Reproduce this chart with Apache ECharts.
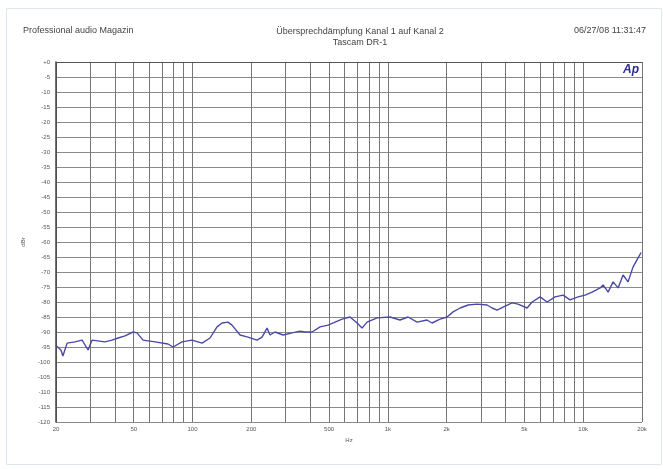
<!DOCTYPE html>
<html>
<head>
<meta charset="utf-8">
<script src="https://cdn.jsdelivr.net/npm/echarts@6/dist/echarts.min.js"></script>
<style>
  html, body { margin: 0; padding: 0; background: #fff; }
  #chart { width: 663px; height: 469px; }
</style>
</head>
<body>
<div id="chart"></div>
<script>
// crosstalk measurement, channel 1 -> channel 2
const freqHz = [
  20, 21.2, 21.7, 22.8, 25.0, 27.2, 29.2, 30.6, 35.6, 38.7, 41.6, 45.1, 49.6, 52.0,
  55.8, 64.3, 74.9, 79.5, 88.4, 99.4, 111.9, 122.9, 133.5, 141.6, 151.9, 159.2,
  175.1, 192.3, 213.9, 226.9, 240.7, 249.3, 264.4, 290.7, 323.3, 355.1, 376.8,
  409.1, 449.6, 494.1, 536.5, 582.9, 640.4, 695.6, 737.9, 782.6, 880.4, 1026,
  1154, 1269, 1411, 1587, 1683, 1851, 2009, 2157, 2343, 2575, 2863, 3221, 3416,
  3624, 3889, 4324, 4641, 5161, 5475, 6015, 6535, 7178, 7889, 8565, 9416, 10224,
  11107, 12207, 12645, 13411, 14225, 15088, 16004, 16974, 18004, 19098, 19790
];
const levelDb = [
  -94.5, -96, -98, -93.7, -93.3, -92.7, -96, -92.7, -93.3, -92.7, -92, -91.3, -90, -90.3,
  -92.7, -93.3, -94, -95, -93.3, -92.7, -93.7, -92, -88.3, -87, -86.7, -87.7,
  -91, -91.7, -92.7, -91.7, -88.7, -91, -90, -91, -90.3, -89.7, -90,
  -90, -88.3, -87.7, -86.7, -85.7, -85, -87, -88.7, -86.7, -85.3, -85,
  -86, -85, -86.7, -86, -87, -85.7, -85, -83.3, -82, -81, -80.7, -81, -82,
  -82.7, -81.7, -80.3, -80.7, -82, -80, -78.3, -80, -78.3, -77.7, -79.3, -78.3, -77.7,
  -76.7, -75.3, -74.3, -76.7, -73.3, -75.3, -71, -73.3, -68.3, -65.3, -63.5
];

const xGridHz = [
  20, 30, 40, 50, 60, 70, 80, 90, 100, 200, 300, 400, 500, 600, 700, 800, 900,
  1000, 2000, 3000, 4000, 5000, 6000, 7000, 8000, 9000, 10000, 20000
];
const xLabelHz = [20, 50, 100, 200, 500, 1000, 2000, 5000, 10000, 20000];
const xLabelText = ['20', '50', '100', '200', '500', '1k', '2k', '5k', '10k', '20k'];

const yMin = -120;
const yMax = 0;
const yStep = 5;

const data = freqHz.map((f, i) => [f, levelDb[i]]);

const chart = echarts.init(document.getElementById('chart'));

const tiny = { fontFamily: 'Liberation Sans', fontSize: 6, color: '#555' };
const head = { fontFamily: 'Liberation Sans', fontSize: 9, color: '#444', fontWeight: 'normal' };

chart.setOption({
  animation: false,
  backgroundColor: '#fff',
  title: [
    { text: 'Professional audio Magazin', left: 18, top: 21, textStyle: head },
    { text: 'Übersprechdämpfung Kanal 1 auf Kanal 2\nTascam DR-1', left: 355, top: 21, textAlign: 'center',
      textStyle: { ...head, lineHeight: 11, align: 'center' } },
    { text: '06/27/08 11:31:47', right: 12, top: 21, textStyle: head }
  ],
  graphic: [
    { type: 'rect', left: 4, top: 6, shape: { width: 655, height: 456 },
      style: { fill: 'none', stroke: '#dfe6ec', lineWidth: 1 }, silent: true },
    { type: 'text', left: 623, top: 64, z: 10,
      style: { text: 'Ap', fill: '#2c2c8c', font: 'italic bold 12px Liberation Sans' } }
  ],
  grid: { left: 56, right: 21, top: 62, bottom: 47, show: false },
  xAxis: {
    type: 'log',
    logBase: 10,
    min: 20,
    max: 20000,
    name: 'Hz',
    nameLocation: 'middle',
    nameGap: 13,
    nameTextStyle: tiny,
    axisLine: { show: true, lineStyle: { color: '#555', width: 1 } },
    axisTick: { show: false, customValues: xGridHz },
    axisLabel: {
      ...tiny,
      margin: 4,
      customValues: xLabelHz,
      formatter: v => xLabelText[xLabelHz.findIndex(h => Math.abs(h - v) < 1e-6 * h)] || ''
    },
    splitLine: { show: true, lineStyle: { color: '#757575', width: 1 } },
    minorSplitLine: { show: false }
  },
  yAxis: {
    type: 'value',
    min: yMin,
    max: yMax,
    interval: yStep,
    name: 'dBr',
    nameLocation: 'middle',
    nameRotate: 90,
    nameGap: 30,
    nameTextStyle: tiny,
    axisLine: { show: true, lineStyle: { color: '#444', width: 1.5 } },
    axisTick: { show: false },
    axisLabel: {
      ...tiny,
      margin: 6,
      formatter: v => (v === 0 ? '+0' : String(v))
    },
    splitLine: { show: true, lineStyle: { color: '#8a8a8a', width: 1 } }
  },
  series: [
    {
      type: 'line',
      data: data,
      showSymbol: false,
      smooth: false,
      lineStyle: { color: '#4a4aa6', width: 1.4 },
      z: 5
    }
  ]
});
</script>
</body>
</html>
